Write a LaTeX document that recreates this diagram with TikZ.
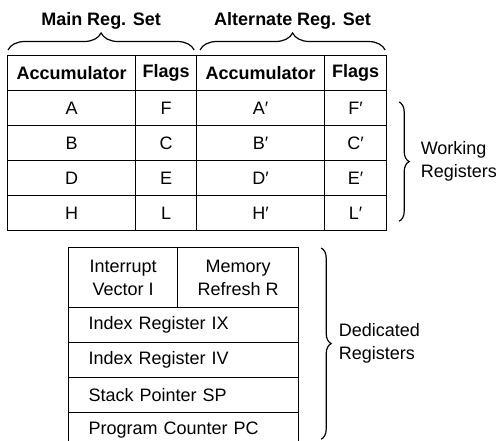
\documentclass[tikz,border=0pt]{standalone}
\usepackage{fontspec}
\setmainfont{Liberation Sans}
\usetikzlibrary{decorations.pathreplacing}
\newcommand{\regfont}{\fontsize{18}{23}\selectfont}
\tikzset{
  cell/.style  = {rectangle, draw=black, line width=1.2pt, inner sep=0pt,
                  minimum height=35pt, anchor=north west, font=\regfont},
  hcell/.style = {cell, font=\regfont\bfseries},
  dcell/.style = {cell, align=center},
  drow/.style  = {cell, inner xsep=20pt, text width=190pt, align=left},
  brc/.style   = {decorate, decoration={brace, amplitude=#1},
                  line width=1.2pt},
  brc/.default = 10pt,
  lbl/.style   = {font=\regfont, align=left, inner sep=0pt, anchor=west},
}
\begin{document}
\begin{tikzpicture}[x=1pt, y=-1pt]
\useasboundingbox (0,0) rectangle (496,441);

%% working register table
\node[hcell, minimum width=128pt] (hAccM) at (7,55)   {Accumulator};
\node[hcell, minimum width=61pt]  (hFlgM) at (135,55) {Flags};
\node[hcell, minimum width=128pt] (hAccA) at (196,55) {Accumulator};
\node[hcell, minimum width=62pt]  (hFlgA) at (324,55) {Flags};
\foreach \ra/\rf [count=\i] in {A/F,B/C,D/E,H/L} {
  \node[cell, minimum width=128pt] (accM\i) at (7,{55+35*\i})   {\ra};
  \node[cell, minimum width=61pt]  (flgM\i) at (135,{55+35*\i}) {\rf};
  \node[cell, minimum width=128pt] (accA\i) at (196,{55+35*\i}) {\ra′};
  \node[cell, minimum width=62pt]  (flgA\i) at (324,{55+35*\i}) {\rf′};
}

%% set braces
\draw[brc=17pt] ([shift={(1,-5)}]hAccM.north west) -- ([shift={(-3,-5)}]hFlgM.north east)
  node[midway, above=20pt, inner sep=0pt, font=\regfont\bfseries] (mainLbl) {Main Reg. Set};
\draw[brc=17pt] ([shift={(4,-5)}]hAccA.north west) -- ([shift={(-2,-5)}]hFlgA.north east)
  node[midway, above=20pt, inner sep=0pt, font=\regfont\bfseries] (altLbl) {Alternate Reg. Set};

%% working brace
\draw[brc] ([shift={(12,12)}]flgA1.north east) -- ([shift={(12,-10)}]flgA4.south east)
  node[midway, right=21pt, lbl] (workLbl) {Working\\Registers};

%% dedicated registers
\node[dcell, minimum width=109pt, minimum height=60pt] (intv) at (68,247)  {Interrupt\\Vector I};
\node[dcell, minimum width=121pt, minimum height=60pt] (mref) at (177,247) {Memory\\Refresh R};
\foreach \t [count=\i] in {Index Register IX,Index Register IV,Stack Pointer SP,Program Counter PC}
  \node[drow] (dreg\i) at (68,{307+35*(\i-1)}) {\t};

\draw[brc] ([shift={(22,1)}]mref.north east) -- ([shift={(22,-9)}]dreg4.south east -| mref.north east)
  node[midway, right=17pt, lbl] (dedLbl) {Dedicated\\Registers};

\end{tikzpicture}
\end{document}
